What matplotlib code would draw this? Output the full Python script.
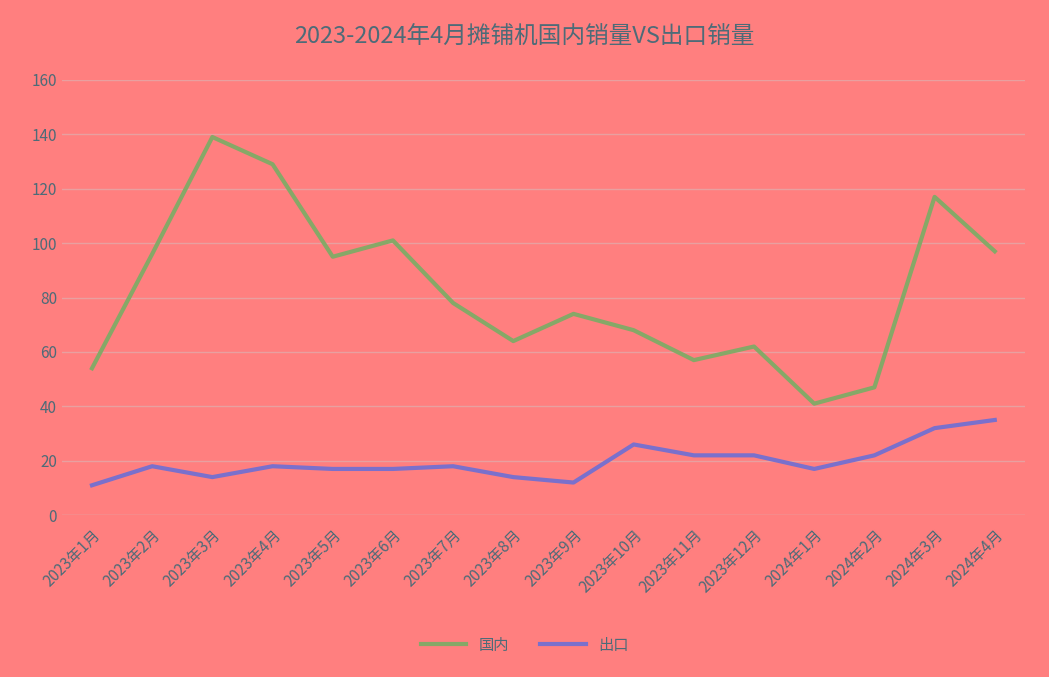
import matplotlib.pyplot as plt
from matplotlib import font_manager

names = {f.name for f in font_manager.fontManager.ttflist}
cjk = [n for n in ['Noto Sans CJK SC', 'Noto Sans CJK JP', 'Noto Sans CJK TC', 'Noto Sans CJK KR'] if n in names]
if not cjk:
    cjk = sorted(n for n in names if 'CJK' in n)
plt.rcParams['font.family'] = cjk + ['DejaVu Sans']

months = ['2023年1月', '2023年2月', '2023年3月', '2023年4月', '2023年5月', '2023年6月',
          '2023年7月', '2023年8月', '2023年9月', '2023年10月', '2023年11月', '2023年12月',
          '2024年1月', '2024年2月', '2024年3月', '2024年4月']
domestic = [54, 96, 139, 129, 95, 101, 78, 64, 74, 68, 57, 62, 41, 47, 117, 97]
export = [11, 18, 14, 18, 17, 17, 18, 14, 12, 26, 22, 22, 17, 22, 32, 35]

bg = '#FF7F7F'
txt = '#4D6B78'

fig = plt.figure(figsize=(10.49, 6.77), dpi=100, facecolor=bg)
ax = fig.add_axes([0.059, 0.239, 0.918, 0.643], facecolor=bg)

x = range(len(months))
ax.plot(x, domestic, color='#86A867', lw=3, label='国内')
ax.plot(x, export, color='#7A70CC', lw=3, label='出口')

ax.set_xlim(-0.5, len(months) - 0.5)
ax.set_ylim(0, 160)
ax.set_yticks(range(0, 161, 20))
ax.set_xticks(list(x))
ax.set_xticklabels(months, rotation=45, ha='right', rotation_mode='anchor')
ax.tick_params(colors=txt, labelsize=11, length=0)
ax.tick_params(axis='x', pad=8)
ax.grid(axis='y', color='#E8A0A0', lw=1)
ax.set_axisbelow(True)
for s in ax.spines.values():
    s.set_visible(False)
ax.axhline(0, color='#E8A0A0', lw=1)

fig.text(0.5, 0.945, '2023-2024年4月摊铺机国内销量VS出口销量', ha='center', va='center',
         fontsize=17, color=txt)
fig.legend(loc='center', bbox_to_anchor=(0.5, 0.047), ncol=2, frameon=False,
           fontsize=11, labelcolor=txt, handlelength=3)

fig.savefig('out.png', facecolor=bg)
